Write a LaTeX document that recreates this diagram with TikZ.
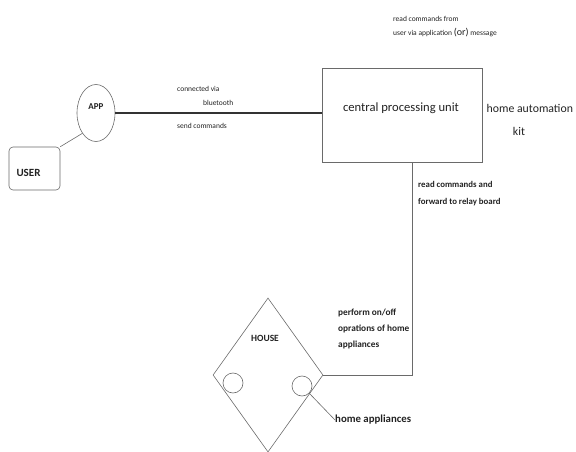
\documentclass[tikz,border=0pt]{standalone}
\usepackage{fontspec}
\setmainfont{Carlito}
\usetikzlibrary{shapes.geometric}
\definecolor{ln}{HTML}{6A6A6A}
\definecolor{tx}{HTML}{222222}
\tikzset{
  thinline/.style={draw=ln, line width=0.6pt},
  mainline/.style={draw=black!80, line width=1.3pt},
  lbl/.style={font=\fontsize{7.5}{9}\selectfont, text=tx, inner sep=0pt, anchor=west, align=left},
  blbl/.style={text=tx, inner sep=0pt, anchor=west, align=left},
  ubox/.style={thinline, rounded corners=4pt, minimum width=51pt, minimum height=43pt, inner sep=0pt},
  appell/.style={thinline, ellipse, minimum width=38pt, minimum height=57pt, inner sep=0pt},
  cpubox/.style={thinline, minimum width=160pt, minimum height=94pt, inner sep=0pt},
  housed/.style={thinline, diamond, minimum width=110pt, minimum height=154pt, inner sep=0pt},
  appl/.style={thinline, circle, minimum size=20pt, inner sep=0pt},
}
\begin{document}
\begin{tikzpicture}[x=1pt,y=-1pt]
\useasboundingbox (0,0) rectangle (576,452);
% nodes
\node[ubox] (user) at (34.5,168.5) {};
\node[font=\bfseries\fontsize{11}{12}\selectfont, text=tx, inner sep=0pt] (usert) at (28.5,173) {USER};
\node[appell] (app) at (96,113) {};
\node[font=\bfseries\fontsize{9}{10}\selectfont, text=tx, inner sep=0pt] (appt) at (96,107) {APP};
\node[cpubox] (cpu) at (402,115) {};
\node[font=\fontsize{12.6}{14}\selectfont, text=tx, inner sep=0pt] (cput) at (401,108) {central processing unit};
\node[housed] (house) at (268,375) {};
\node[font=\bfseries\fontsize{9.5}{11}\selectfont, text=tx, inner sep=0pt] (houset) at (265,338) {HOUSE};
\node[appl] (c1) at (233,383) {};
\node[appl] (c2) at (302,386) {};
\coordinate (corner) at (412,375);
% labels
\node[lbl] (l1) at (177,89) {connected via};
\node[lbl] (l2) at (203,103) {bluetooth};
\node[lbl] (l3) at (177,126) {send commands};
\node[lbl, font=\fontsize{7.5}{14}\selectfont] (l4) at (393,27) {read commands from\\user via application {\fontsize{10}{12}\selectfont (or)} message};
\node[font=\fontsize{11.8}{15}\selectfont, text=tx, inner sep=0pt, anchor=west] (hak1) at (486.5,108) {home automation};
\node[font=\fontsize{11.8}{15}\selectfont, text=tx, inner sep=0pt] (hak2) at (519,131) {kit};
\node[blbl, font=\bfseries\fontsize{8.8}{17}\selectfont] (l5) at (418,193.5) {read commands and\\forward to relay board};
\node[blbl, font=\bfseries\fontsize{9.3}{16}\selectfont] (l6) at (338,329) {perform on/off\\oprations of home\\appliances};
\node[font=\bfseries\fontsize{10.8}{12}\selectfont, text=tx, inner sep=0pt, anchor=west] (ha) at (335,420) {home appliances};
% connectors
\draw[thinline] (user.north east) -- (app.south west);
\draw[mainline] (app.east) -- (app.east -| cpu.west);
\draw[thinline] (cpu.south -| corner) -- (corner) -- (house.east);
\draw[thinline] (c2.south east) -- (ha.west);
\end{tikzpicture}
\end{document}
